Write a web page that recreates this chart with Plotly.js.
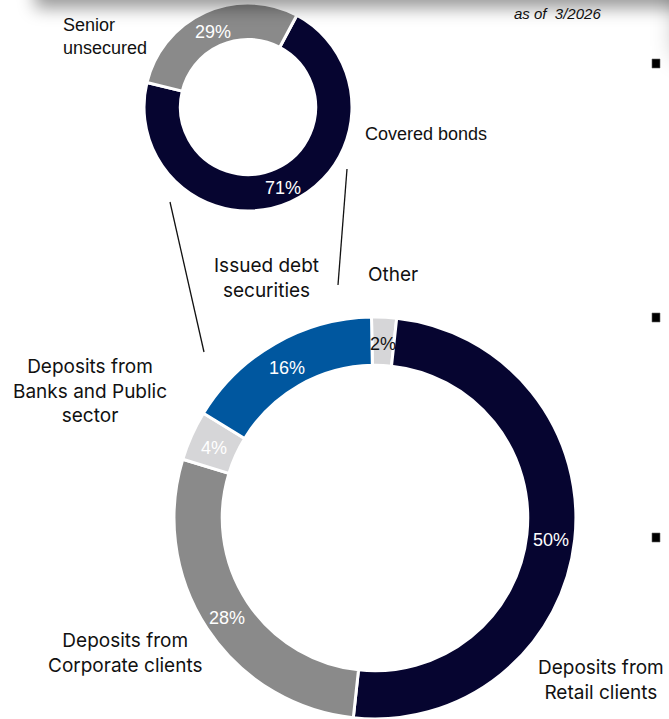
<!DOCTYPE html>
<html>
<head>
<meta charset="utf-8">
<script src="https://cdn.plot.ly/plotly-3.0.1.min.js"></script>
<style>
  html, body { margin:0; padding:0; background:#fff; overflow:hidden; }
  #wrap { position:relative; width:669px; height:719px; overflow:hidden; }
  #chart { position:absolute; left:0; top:0; width:669px; height:719px; }
  .shadow { position:absolute; pointer-events:none; background:#fff; }
</style>
</head>
<body>
<div id="wrap">
  <div id="chart"></div>
  <div class="shadow" style="left:40px; top:-60px; width:650px; height:60px; box-shadow:0 3px 16px 5px rgba(0,0,0,0.40);"></div>
  <div class="shadow" style="left:688px; top:-30px; width:40px; height:75px; box-shadow:0 0 24px 12px rgba(0,0,0,0.30);"></div>
</div>
<script>
// ---- Data ----
var fundingLabels = ["Other", "Deposits from Retail clients", "Deposits from Corporate clients", "Deposits from Banks and Public sector", "Issued debt securities"];
var fundingValues = [2, 50, 28, 4, 16];
var debtLabels = ["Covered bonds", "Senior unsecured"];
var debtValues = [71, 29];
var dateNote = "as of  3/2026";

// ---- Styles / layout constants ----
var W = 669, H = 719;
var fundingColors = ["#d6d6d8", "#060530", "#8a8a8a", "#d6d6d8", "#00579f"];
var fundingTextColors = ["#111111", "#ffffff", "#ffffff", "#ffffff", "#ffffff"];
var debtColors = ["#060530", "#8a8a8a"];
var debtTextColors = ["#ffffff", "#ffffff"];

var big = {cx: 375, cy: 518, r: 201, hole: 0.76, rot: -1};
var small = {cx: 248, cy: 107, r: 104, hole: 0.65, rot: 28};

function px(x) { return x / W; }
function py(y) { return 1 - y / H; }

function domainOf(g) {
  var bottom = H - g.cy - g.r;
  var top = H - g.cy + g.r;
  return {x: [px(g.cx - g.r), px(g.cx + g.r)], y: [Math.max(0, bottom) / H, Math.min(H, top) / H]};
}

function pctAnnotations(values, g, colors, size) {
  var total = values.reduce(function(a, b) { return a + b; }, 0);
  var cum = 0, out = [];
  var rm = g.r * (1 + g.hole) / 2;
  values.forEach(function(v, i) {
    var a = (g.rot + (cum + v / 2) / total * 360) * Math.PI / 180;
    cum += v;
    out.push({
      x: px(g.cx + rm * Math.sin(a)), y: py(g.cy - rm * Math.cos(a)),
      xref: "paper", yref: "paper", showarrow: false, yshift: -3,
      text: Math.round(v / total * 100) + "%",
      font: {family: "Liberation Sans, Arial, sans-serif", size: size, color: colors[i]},
      xanchor: "center", yanchor: "middle"
    });
  });
  return out;
}

var traces = [
  {
    type: "pie", labels: fundingLabels, values: fundingValues, sort: false,
    direction: "clockwise", rotation: big.rot, hole: big.hole,
    marker: {colors: fundingColors, line: {color: "#ffffff", width: 3}},
    textinfo: "none", hoverinfo: "label+percent", showlegend: false,
    domain: domainOf(big)
  },
  {
    type: "pie", labels: debtLabels, values: debtValues, sort: false,
    direction: "clockwise", rotation: small.rot, hole: small.hole,
    marker: {colors: debtColors, line: {color: "#ffffff", width: 3}},
    textinfo: "none", hoverinfo: "label+percent", showlegend: false,
    domain: domainOf(small)
  }
];

var labelFont = {family: "Inter, Liberation Sans, Arial, sans-serif", size: 19, color: "#111111"};
var smallFont = {family: "Liberation Sans, Arial, sans-serif", size: 18, color: "#111111"};
function lab(text, x, y, font, xanchor, align) {
  return {x: px(x), y: py(y), xref: "paper", yref: "paper", showarrow: false,
    text: text, font: font, xanchor: xanchor || "center", yanchor: "middle", align: align || "center"};
}

var annotations = [
  lab("Senior<br>unsecured", 61, 36, smallFont, "left", "left"),
  lab("Covered bonds", 363, 134, smallFont, "left", "left"),
  lab("Issued debt<br>securities", 266, 278, labelFont),
  lab("Other", 393, 274, labelFont),
  lab("Deposits from<br>Banks and Public<br>sector", 90, 391, labelFont),
  lab("Deposits from<br>Corporate clients", 125, 653, labelFont),
  lab("Deposits from<br>Retail clients", 601, 680, labelFont),
  lab("<i>" + dateNote.replace("  ", "&nbsp; ") + "</i>", 557, 14, {family: "Liberation Sans, Arial, sans-serif", size: 15, color: "#111111"}, "center")
].concat(pctAnnotations(fundingValues, big, fundingTextColors, 18))
 .concat(pctAnnotations(debtValues, small, debtTextColors, 18));

function seg(x0, y0, x1, y1) {
  return {type: "line", xref: "paper", yref: "paper", x0: px(x0), y0: py(y0), x1: px(x1), y1: py(y1),
    line: {color: "#111111", width: 1.3}};
}
function bullet(x, y) {
  return {type: "rect", xref: "paper", yref: "paper", x0: px(x), y0: py(y), x1: px(x + 8), y1: py(y + 9),
    fillcolor: "#000000", line: {color: "#666666", width: 0.6}};
}
var shapes = [
  seg(170, 202, 204, 352),
  seg(347, 169, 338, 285),
  bullet(652, 59), bullet(652, 313), bullet(652, 533)
];

var layout = {
  width: W, height: H,
  margin: {l: 0, r: 0, t: 0, b: 0, pad: 0},
  paper_bgcolor: "#ffffff", plot_bgcolor: "#ffffff",
  showlegend: false,
  annotations: annotations,
  shapes: shapes
};

Plotly.newPlot("chart", traces, layout, {displayModeBar: false, staticPlot: true});
</script>
</body>
</html>
